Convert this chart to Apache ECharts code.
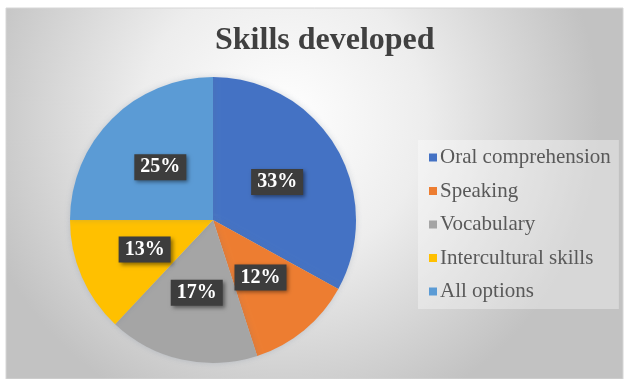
<!DOCTYPE html>
<html>
<head>
<meta charset="utf-8">
<script src="https://cdn.jsdelivr.net/npm/echarts@6/dist/echarts.min.js"></script>
<style>
  html, body { margin: 0; padding: 0; background: #ffffff; }
  #chart { width: 628px; height: 379px; }
</style>
</head>
<body>
<div id="chart"></div>
<script>
// Survey answers: which skills were developed
const categories = ['Oral comprehension', 'Speaking', 'Vocabulary', 'Intercultural skills', 'All options'];
const shares = [33, 12, 17, 13, 25];
const palette = ['#4472C4', '#ED7D31', '#A5A5A5', '#FFC000', '#5B9BD5'];

const serif = '"Liberation Serif", "Times New Roman", serif';

const chart = echarts.init(document.getElementById('chart'), null, { renderer: 'canvas' });

chart.setOption({
  animation: false,
  color: palette,
  graphic: {
    elements: [
      {
        type: 'rect',
        z: -10,
        shape: { x: 6, y: 8, width: 617, height: 371 },
        style: {
          fill: new echarts.graphic.RadialGradient(0.45, 0.3, 0.85, [
            { offset: 0, color: '#ffffff' },
            { offset: 0.45, color: '#ededed' },
            { offset: 1, color: '#c2c2c2' }
          ]),
          stroke: '#d6d6d6',
          lineWidth: 1
        }
      }
    ]
  },
  title: {
    text: 'Skills developed',
    left: 210,
    top: 20,
    textStyle: {
      fontFamily: serif,
      fontWeight: 'bold',
      fontSize: 32,
      color: '#404040'
    }
  },
  legend: {
    orient: 'vertical',
    left: 418,
    top: 140,
    padding: [7, 8, 7, 11],
    backgroundColor: 'rgba(255,255,255,0.35)',
    itemWidth: 8,
    itemHeight: 8,
    itemGap: 12.5,
    icon: 'rect',
    data: categories,
    textStyle: {
      fontFamily: serif,
      fontSize: 21,
      lineHeight: 21,
      color: '#595959',
      padding: [0, 0, 0, -2]
    }
  },
  series: [
    {
      type: 'pie',
      center: [213, 220],
      radius: [0, 143],
      startAngle: 90,
      clockwise: true,
      avoidLabelOverlap: false,
      itemStyle: {
        borderWidth: 0,
        shadowBlur: 6,
        shadowColor: 'rgba(90,110,140,0.25)'
      },
      label: {
        show: true,
        position: 'inside',
        formatter: '{c}%',
        fontFamily: serif,
        fontWeight: 'bold',
        fontSize: 20,
        color: '#ffffff',
        backgroundColor: '#3d3d3d',
        padding: [4, 6, 2, 6],
        shadowBlur: 4,
        shadowOffsetX: 2,
        shadowOffsetY: 2,
        shadowColor: 'rgba(0,0,0,0.45)'
      },
      labelLine: { show: false },
      emphasis: { disabled: true },
      data: categories.map((name, i) => ({ name, value: shares[i] }))
    }
  ]
});
</script>
</body>
</html>
